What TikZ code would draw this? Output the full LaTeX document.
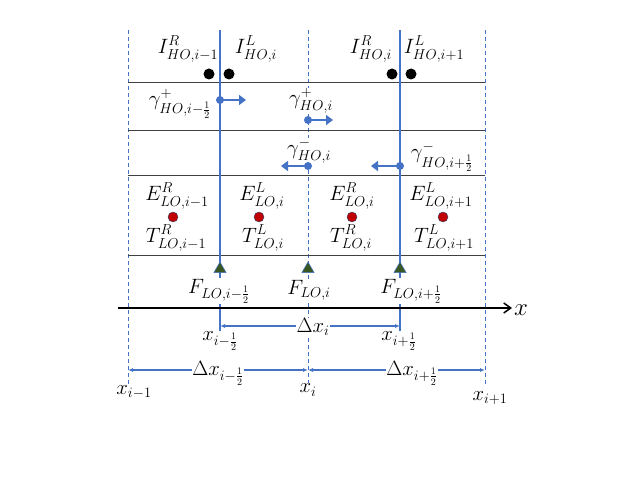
\documentclass[tikz,border=0pt]{standalone}
\usepackage{amsmath}
\usetikzlibrary{arrows.meta,shapes.geometric}
\definecolor{lblue}{HTML}{4472C4}
\definecolor{dgreen}{HTML}{385723}
\definecolor{dred}{HTML}{C00000}
\definecolor{rowline}{HTML}{404040}
\begin{document}
\begin{tikzpicture}[x=1pt,y=-1pt,
  lab/.style={fill=white, inner sep=0.5pt, font=\fontsize{20}{24}\selectfont},
  bare/.style={inner sep=0.5pt, font=\fontsize{20}{24}\selectfont},
  dashv/.style={lblue, line width=0.8pt, dash pattern=on 4pt off 3pt},
  solidv/.style={lblue, line width=1.2pt},
  rowl/.style={rowline, line width=0.8pt},
  dimarr/.style={lblue, line width=1.1pt, {Latex[length=5pt,width=4pt]}-{Latex[length=5pt,width=4pt]}},
  garr/.style={lblue, line width=2.5pt, -{Triangle[length=7pt,width=10pt]}},
  gdot/.style={circle, fill=lblue, inner sep=0pt, minimum size=8pt},
  bdot/.style={circle, fill=black, inner sep=0pt, minimum size=11pt},
  rdot/.style={circle, fill=dred, draw=lblue!60!black, line width=0.4pt, inner sep=0pt, minimum size=10pt},
  tri/.style={regular polygon, regular polygon sides=3, fill=dgreen, draw=lblue, line width=0.5pt, inner sep=0pt, minimum size=14pt}
]
\useasboundingbox (0,0) rectangle (623,481);

% coordinates
\coordinate (d1t) at (128,30);  \coordinate (d1b) at (128,386);
\coordinate (d2t) at (308,30);  \coordinate (d2b) at (308,386);
\coordinate (d3t) at (485,30);  \coordinate (d3b) at (485,386);
\coordinate (s1t) at (220,30);  \coordinate (s1b) at (220,333);
\coordinate (s2t) at (400,30);  \coordinate (s2b) at (400,333);
\coordinate (r1l) at (128,82);  \coordinate (r1r) at (485,82);
\coordinate (r2l) at (128,130); \coordinate (r2r) at (485,130);
\coordinate (r3l) at (128,175); \coordinate (r3r) at (485,175);
\coordinate (r4l) at (128,255); \coordinate (r4r) at (485,255);
\coordinate (axl) at (118,308); \coordinate (axr) at (512,308);
\coordinate (a1l) at (220,326); \coordinate (a1r) at (400,326);
\coordinate (a2l) at (128,370); \coordinate (a2m) at (308,370); \coordinate (a2r) at (485,370);

% grid lines
\draw[dashv] (d1t) -- (d1b);
\draw[dashv] (d2t) -- (d2b);
\draw[dashv] (d3t) -- (d3b);
\draw[rowl] (r1l) -- (r1r);
\draw[rowl] (r2l) -- (r2r);
\draw[rowl] (r3l) -- (r3r);
\draw[rowl] (r4l) -- (r4r);
\draw[solidv] (s1t) -- (s1b);
\draw[solidv] (s2t) -- (s2b);
\draw[black, line width=1.5pt, -{Straight Barb[length=7pt,width=10pt]}] (axl) -- (axr);
\draw[dimarr] (a1l) -- (a1r);
\draw[dimarr] (a2l) -- (a2m);
\draw[dimarr] (a2m) -- (a2r);

% labels
\node[bare] (i1) at (188,49) {$I^{R}_{HO,i-1}$};
\node[bare] (i2) at (256,49) {$I^{L}_{HO,i}$};
\node[bare] (i3) at (371,49) {$I^{R}_{HO,i}$};
\node[bare] (i4) at (434,49) {$I^{L}_{HO,i+1}$};
\node[bare] (g1) at (180,104) {$\gamma^{+}_{HO,i-\frac{1}{2}}$};
\node[lab] (g2) at (311,101) {$\gamma^{+}_{HO,i}$};
\node[lab] (g3) at (309,151) {$\gamma^{-}_{HO,i}$};
\node[bare] (g4) at (442,157) {$\gamma^{-}_{HO,i+\frac{1}{2}}$};
\node[bare] (e1) at (177,196) {$E^{R}_{LO,i-1}$};
\node[bare] (e2) at (262,196) {$E^{L}_{LO,i}$};
\node[bare] (e3) at (352,196) {$E^{R}_{LO,i}$};
\node[bare] (e4) at (441,196) {$E^{L}_{LO,i+1}$};
\node[bare] (t1) at (176,238) {$T^{R}_{LO,i-1}$};
\node[bare] (t2) at (263,238) {$T^{L}_{LO,i}$};
\node[bare] (t3) at (351,238) {$T^{R}_{LO,i}$};
\node[bare] (t4) at (444,238) {$T^{L}_{LO,i+1}$};
\node[lab] (f1) at (219,291) {$F_{LO,i-\frac{1}{2}}$};
\node[lab] (f2) at (309,290) {$F_{LO,i}$};
\node[lab] (f3) at (411,291) {$F_{LO,i+\frac{1}{2}}$};
\node[inner sep=0pt, font=\fontsize{30}{34}\selectfont] (xl) at (521,310) {$x$};
\node[lab] (dx1) at (313,327) {$\Delta x_{i}$};
\node[lab] (xm) at (220,341) {$x_{i-\frac{1}{2}}$};
\node[lab] (xp) at (399,341) {$x_{i+\frac{1}{2}}$};
\node[lab] (dx2) at (218,373) {$\Delta x_{i-\frac{1}{2}}$};
\node[lab] (dx3) at (412,373) {$\Delta x_{i+\frac{1}{2}}$};
\node[lab] (x0) at (134,392) {$x_{i-1}$};
\node[lab] (x1) at (308,390) {$x_{i}$};
\node[lab] (x2) at (490,398) {$x_{i+1}$};

% black dots
\node[bdot] (b1) at (209,74) {};
\node[bdot] (b2) at (229,74) {};
\node[bdot] (b3) at (392,74) {};
\node[bdot] (b4) at (411,74) {};

% gamma arrows
\node[gdot] (p1) at (220,100) {};
\coordinate (q1) at (246,100);
\draw[garr] (p1.center) -- (q1);
\node[gdot] (p2) at (308,120) {};
\coordinate (q2) at (333,120);
\draw[garr] (p2.center) -- (q2);
\node[gdot] (p3) at (308,166) {};
\coordinate (q3) at (281,166);
\draw[garr] (p3.center) -- (q3);
\node[gdot] (p4) at (400,166) {};
\coordinate (q4) at (371,166);
\draw[garr] (p4.center) -- (q4);

% red dots
\node[rdot] (rd1) at (173,217) {};
\node[rdot] (rd2) at (259,217) {};
\node[rdot] (rd3) at (352,217) {};
\node[rdot] (rd4) at (443,217) {};

% triangles
\node[tri] (tr1) at (220,269) {};
\node[tri] (tr2) at (308,269) {};
\node[tri] (tr3) at (400,269) {};
\end{tikzpicture}
\end{document}
